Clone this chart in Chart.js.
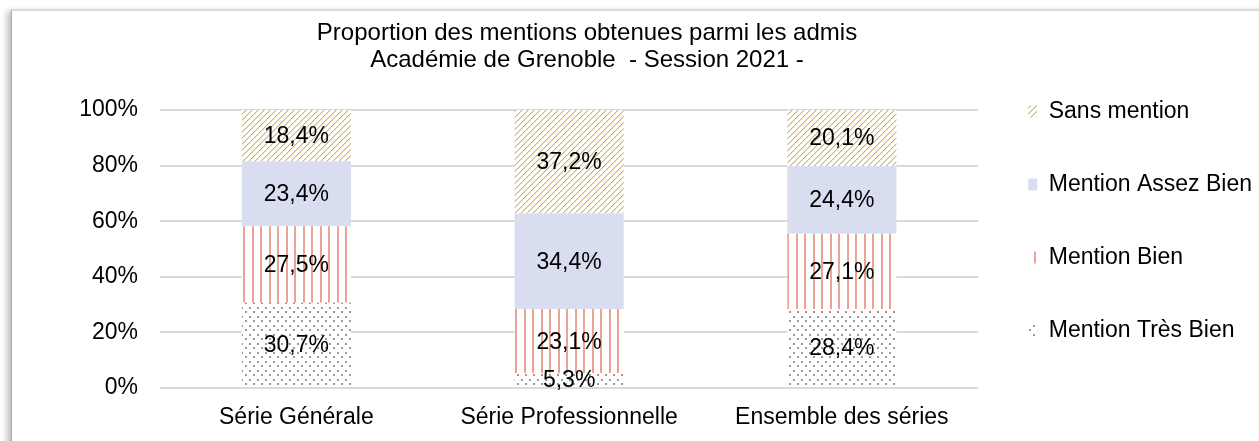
<!DOCTYPE html>
<html>
<head>
<meta charset="utf-8">
<script src="https://cdn.jsdelivr.net/npm/chart.js@4"></script>
<style>
  html, body { margin: 0; padding: 0; background: #fff; overflow: hidden; width: 1259px; height: 441px; }
  #frame {
    position: absolute; left: 11px; top: 9px; width: 1260px; height: 440px;
    border-top: 2px solid #d9d9d9; border-left: 1px solid #a8a8a8;
    box-shadow: -4px 2px 6px rgba(0, 0, 0, 0.25);
  }
  #wrap { position: absolute; left: -88px; top: 0; width: 1350px; height: 441px; }
</style>
</head>
<body>
<div id="frame"></div>
<div id="wrap"><canvas id="mentions" width="1350" height="441"></canvas></div>
<script>
// Data
const categories = ['Série Générale', 'Série Professionnelle', 'Ensemble des séries'];
const tresBien = [30.7, 5.3, 28.4];
const bien = [27.5, 23.1, 27.1];
const assezBien = [23.4, 34.4, 24.4];
const sansMention = [18.4, 37.2, 20.1];
const yMax = 100;
const yStep = 20;

const FONT = "'Liberation Sans', Arial, sans-serif";

// small helper to build a repeating fill
function makePattern(w, h, draw) {
    const c = document.createElement('canvas');
    c.width = w;
    c.height = h;
    const g = c.getContext('2d');
    g.fillStyle = '#ffffff';
    g.fillRect(0, 0, w, h);
    draw(g);
    return g.createPattern(c, 'repeat');
}

// diagonal tan hatch
const hatchPattern = makePattern(6, 6, g => {
    for (let i = 0; i < 6; i++) {
        g.fillStyle = 'rgba(205, 160, 80, 0.85)';
        g.fillRect(i, 5 - i, 1, 1);
        g.fillStyle = 'rgba(225, 195, 130, 0.5)';
        g.fillRect((i + 1) % 6, 5 - i, 1, 1);
    }
});

// vertical salmon lines
const stripePattern = makePattern(17, 4, g => {
    g.fillStyle = '#eaa493';
    g.fillRect(0, 0, 2, 4);
    g.fillRect(8, 0, 2, 4);
});

// gray dots
const dotPattern = makePattern(8, 9, g => {
    g.fillStyle = '#9a9a9a';
    g.fillRect(1, 1, 2, 2);
    g.fillRect(5, 5, 2, 2);
});

// value labels centred in each segment
const segmentLabels = {
    id: 'segmentLabels',
    afterDatasetsDraw(chart) {
        const ctx = chart.ctx;
        ctx.save();
        ctx.font = '23px ' + FONT;
        ctx.fillStyle = '#000';
        ctx.textAlign = 'center';
        ctx.textBaseline = 'middle';
        chart.data.datasets.forEach((ds, di) => {
            const meta = chart.getDatasetMeta(di);
            meta.data.forEach((bar, i) => {
                const p = bar.getProps(['x', 'y', 'base'], true);
                const txt = ds.data[i].toFixed(1).replace('.', ',') + '%';
                ctx.fillText(txt, p.x, (p.y + p.base) / 2 + 1);
            });
        });
        ctx.restore();
    }
};

const ctx = document.getElementById('mentions').getContext('2d');

const mentionsChart = new Chart(ctx, {
    type: 'bar',
    data: {
        labels: categories,
        datasets: [
            { label: 'Mention Très Bien', data: tresBien, backgroundColor: dotPattern },
            { label: 'Mention Bien', data: bien, backgroundColor: stripePattern },
            { label: 'Mention Assez Bien', data: assezBien, backgroundColor: '#d9ddf0' },
            { label: 'Sans mention', data: sansMention, backgroundColor: hatchPattern }
        ]
    },
    options: {
        responsive: false,
        animation: false,
        layout: { padding: { left: 0, right: 0, top: 0, bottom: 0 } },
        datasets: {
            bar: { categoryPercentage: 1, barPercentage: 0.4, borderWidth: 0 }
        },
        scales: {
            x: {
                stacked: true,
                grid: { display: false },
                border: { display: false },
                ticks: { color: '#000', font: { family: FONT, size: 23 }, padding: 8 },
                afterFit: s => { s.height = 53; }
            },
            y: {
                stacked: true,
                min: 0,
                max: yMax,
                ticks: {
                    stepSize: yStep,
                    color: '#000',
                    font: { family: FONT, size: 23 },
                    padding: 22,
                    callback: v => v + '%'
                },
                grid: { color: '#d9d9d9', lineWidth: 2, drawTicks: false },
                border: { display: false },
                afterFit: s => { s.width = 248; }
            }
        },
        plugins: {
            title: {
                display: true,
                text: ['Proportion des mentions obtenues parmi les admis', 'Académie de Grenoble  - Session 2021 -'],
                color: '#000',
                font: { family: FONT, size: 24, weight: 'normal', lineHeight: 1.125 },
                padding: { top: 20, bottom: 36 }
            },
            legend: {
                position: 'right',
                align: 'start',
                reverse: true,
                title: { display: true, text: ' ', font: { size: 10, lineHeight: 1.2 }, padding: { top: 38, bottom: 0 } },
                labels: {
                    color: '#000',
                    font: { family: FONT, size: 23 },
                    boxWidth: 9,
                    boxHeight: 12,
                    padding: 50
                }
            },
            tooltip: { enabled: false }
        }
    },
    plugins: [segmentLabels]
});
</script>
</body>
</html>
